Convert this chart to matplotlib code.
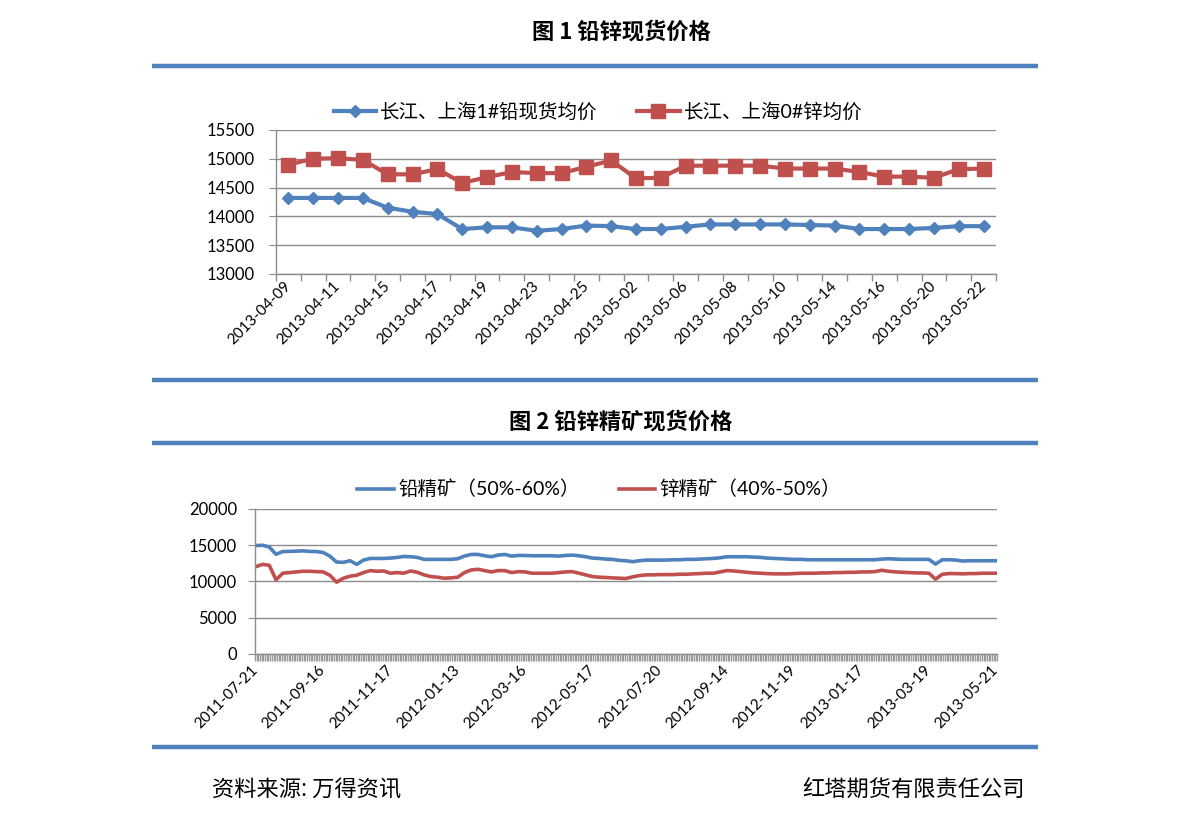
import numpy as np
import matplotlib
matplotlib.use('Agg')
import matplotlib.pyplot as plt
from matplotlib.lines import Line2D
from matplotlib.ticker import FixedLocator, MultipleLocator

plt.rcParams['font.family'] = ['Lato', 'Noto Sans CJK SC', 'DejaVu Sans']
CJK = ['Noto Sans CJK SC', 'DejaVu Sans']

BLUE = '#4F81BD'
RED = '#C0504D'
GRID = '#8C8C8C'

# ---- chart 1: lead / zinc spot prices (daily) ----
spot_dates = ['2013-04-09', '2013-04-10', '2013-04-11', '2013-04-12', '2013-04-15',
              '2013-04-16', '2013-04-17', '2013-04-18', '2013-04-19', '2013-04-22',
              '2013-04-23', '2013-04-24', '2013-04-25', '2013-04-26', '2013-05-02',
              '2013-05-03', '2013-05-06', '2013-05-07', '2013-05-08', '2013-05-09',
              '2013-05-10', '2013-05-13', '2013-05-14', '2013-05-15', '2013-05-16',
              '2013-05-17', '2013-05-20', '2013-05-21', '2013-05-22']
lead_spot = [14320, 14320, 14320, 14320, 14150, 14080, 14040, 13780, 13810, 13810,
             13750, 13780, 13840, 13830, 13780, 13780, 13820, 13860, 13860, 13860,
             13860, 13850, 13840, 13780, 13780, 13780, 13800, 13830, 13830]
zinc_spot = [14900, 15000, 15010, 14980, 14730, 14730, 14820, 14580, 14680, 14770,
             14750, 14750, 14860, 14970, 14660, 14670, 14880, 14880, 14880, 14880,
             14830, 14830, 14830, 14770, 14690, 14690, 14670, 14820, 14830]
spot_names = ['长江、上海1#铅现货均价', '长江、上海0#锌均价']

# ---- chart 2: concentrate prices, read every 4th trading day ----
conc_labels = ['2011-07-21', '2011-09-16', '2011-11-17', '2012-01-13', '2012-03-16',
               '2012-05-17', '2012-07-20', '2012-09-14', '2012-11-19', '2013-01-17',
               '2013-03-19', '2013-05-21']
label_every = 40   # trading days between axis labels
sample_every = 4   # trading days between read values
lead_conc = [14950, 15000, 14750, 13750, 14130, 14150, 14180, 14230, 14140, 14130,
             14000, 13500, 12680, 12640, 12860, 12360, 12950, 13180, 13180, 13180,
             13230, 13320, 13450, 13410, 13320, 13050, 13050, 13050, 13050, 13050,
             13140, 13500, 13730, 13730, 13550, 13410, 13640, 13730, 13500, 13590,
             13590, 13550, 13550, 13550, 13550, 13500, 13590, 13640, 13550, 13410,
             13230, 13180, 13090, 13050, 12910, 12860, 12730, 12860, 12950, 12950,
             12950, 12950, 13000, 13000, 13050, 13050, 13090, 13140, 13180, 13270,
             13410, 13410, 13410, 13410, 13360, 13320, 13230, 13180, 13140, 13090,
             13050, 13050, 13000, 13000, 13000, 13000, 13000, 13000, 13000, 13000,
             13000, 13000, 13000, 13090, 13140, 13090, 13050, 13050, 13050, 13050,
             13050, 12400, 13000, 13000, 12950, 12820, 12860, 12860, 12860, 12860,
             12860]
zinc_conc = [12050, 12360, 12230, 10230, 11140, 11230, 11320, 11410, 11410, 11360,
             11320, 10860, 9900, 10450, 10730, 10860, 11230, 11500, 11410, 11450,
             11140, 11230, 11140, 11450, 11270, 10910, 10680, 10590, 10450, 10500,
             10590, 11230, 11590, 11680, 11500, 11320, 11500, 11500, 11230, 11360,
             11320, 11140, 11140, 11140, 11140, 11230, 11320, 11360, 11140, 10910,
             10680, 10590, 10550, 10500, 10450, 10410, 10640, 10820, 10910, 10910,
             10950, 10950, 10950, 11000, 11000, 11050, 11090, 11140, 11140, 11320,
             11500, 11450, 11360, 11270, 11180, 11140, 11090, 11050, 11050, 11050,
             11090, 11140, 11140, 11140, 11180, 11180, 11230, 11230, 11270, 11270,
             11320, 11320, 11360, 11550, 11410, 11320, 11270, 11230, 11180, 11180,
             11140, 10320, 11000, 11090, 11090, 11050, 11090, 11090, 11140, 11140,
             11140]
conc_names = ['铅精矿（50%-60%）', '锌精矿（40%-50%）']

fig = plt.figure(figsize=(11.91, 8.22), dpi=100)


def rule(y):
    fig.add_artist(Line2D([0.1276, 0.8715], [y, y], transform=fig.transFigure,
                          color=BLUE, lw=3.2, solid_capstyle='butt'))


def style_axes(ax):
    for s in ['top', 'right']:
        ax.spines[s].set_visible(False)
    for s in ['left', 'bottom']:
        ax.spines[s].set_color(GRID)
        ax.spines[s].set_linewidth(1)
    ax.grid(axis='y', color=GRID, lw=1)
    ax.set_axisbelow(True)
    ax.tick_params(axis='y', length=5, color=GRID, labelsize=12, pad=10)
    ax.tick_params(axis='x', which='major', length=0, labelsize=11, pad=7)
    ax.tick_params(axis='x', which='minor', length=5, color=GRID, width=1)


# titles and rules
fig.text(0.522, 1 - 32 / 822, '图 1 铅锌现货价格', ha='center', va='center',
         fontsize=16, fontweight='bold', family=CJK)
rule(1 - 66 / 822)
rule(1 - 380 / 822)
fig.text(0.521, 1 - 422 / 822, '图 2 铅锌精矿现货价格', ha='center', va='center',
         fontsize=16, fontweight='bold', family=CJK)
rule(1 - 443 / 822)
rule(1 - 747 / 822)

# chart 1
ax1 = fig.add_axes([0.2317, 0.6667, 0.6046, 0.1752])
x1 = np.arange(len(spot_dates))
ax1.plot(x1, lead_spot, color=BLUE, lw=3, marker='D', ms=6.5, label=spot_names[0])
ax1.plot(x1, zinc_spot, color=RED, lw=3, marker='s', ms=10, label=spot_names[1])
ax1.set_xlim(-0.5, len(spot_dates) - 0.5)
ax1.set_ylim(13000, 15500)
ax1.yaxis.set_major_locator(MultipleLocator(500))
ax1.set_xticks(x1[::2])
ax1.set_xticklabels(spot_dates[::2], rotation=45, ha='right', va='center',
                    rotation_mode='anchor')
ax1.xaxis.set_minor_locator(FixedLocator(np.arange(-0.5, len(spot_dates))))
style_axes(ax1)
ax1.legend(loc='center', bbox_to_anchor=(0.502, 1 - 112 / 822),
           bbox_transform=fig.transFigure, ncol=2, frameon=False, fontsize=14,
           handlelength=2.2, handletextpad=0.2, columnspacing=2.0)

# chart 2
ax2 = fig.add_axes([0.2141, 0.2044, 0.6230, 0.1764])
n_days = (len(lead_conc) - 1) * sample_every + 1
x2 = np.arange(len(lead_conc)) * sample_every
ax2.plot(x2, lead_conc, color=BLUE, lw=2.6, label=conc_names[0])
ax2.plot(x2, zinc_conc, color=RED, lw=2.6, label=conc_names[1])
ax2.set_xlim(-0.5, n_days - 0.5)
ax2.set_ylim(0, 20000)
ax2.yaxis.set_major_locator(MultipleLocator(5000))
ax2.set_xticks(np.arange(len(conc_labels)) * label_every)
ax2.set_xticklabels(conc_labels, rotation=45, ha='right', va='center',
                    rotation_mode='anchor')
ax2.xaxis.set_minor_locator(FixedLocator(np.arange(-0.5, n_days)))
style_axes(ax2)
ax2.tick_params(axis='x', which='minor', length=5, width=1.0, color='#9A9A9A')
ax2.tick_params(axis='x', which='major', pad=10)
ax2.tick_params(axis='y', pad=8)
ax2.legend(loc='center', bbox_to_anchor=(0.503, 1 - 489 / 822),
           bbox_transform=fig.transFigure, ncol=2, frameon=False, fontsize=14,
           handlelength=1.9, handletextpad=0.2, columnspacing=2.0)

# footer
fig.text(212 / 1191, 1 - 790 / 822, '资料来源: 万得资讯', ha='left', va='center',
         fontsize=16, family=CJK)
fig.text(1025 / 1191, 1 - 790 / 822, '红塔期货有限责任公司', ha='right', va='center',
         fontsize=16, family=CJK)

fig.savefig('out.png', dpi=100)
